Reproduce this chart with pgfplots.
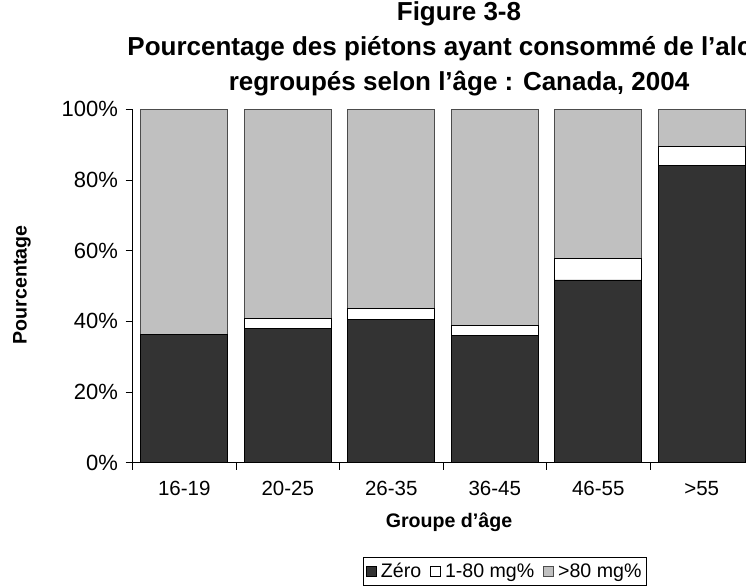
\documentclass[border=0pt]{standalone}
\usepackage{fontspec}
\setmainfont{Liberation Sans}
\usepackage{pgfplots}
\pgfplotsset{compat=1.18}
\definecolor{zero}{RGB}{51,51,51}
\definecolor{over}{RGB}{192,192,192}
\newcommand{\lbl}{\fontsize{19.6bp}{23bp}\selectfont}
\begin{document}
\begin{tikzpicture}[x=1bp,y=1bp]
\useasboundingbox (0,0) rectangle (746,588);
\clip (0,0) rectangle (746,588);
\begin{axis}[
  at={(132.5bp,125.3bp)}, anchor=south west,
  scale only axis, width=621bp, height=353.4bp,
  ybar stacked, bar width=0.84,
  xmin=-0.5, xmax=5.5, ymin=0, ymax=100,
  axis lines*=left,
  axis line style={black, line width=0.8bp},
  xtick={0,...,5},
  xticklabels={16-19,20-25,26-35,36-45,46-55,>55},
  minor xtick={-0.5,0.5,1.5,2.5,3.5,4.5,5.5},
  major x tick style={draw=none},
  minor x tick style={black, line width=0.8bp},
  ytick={0,20,...,100},
  yticklabels={0\%,20\%,40\%,60\%,80\%,100\%},
  y tick style={black, line width=0.8bp},
  tick align=outside, major tick length=7bp, minor tick length=7bp,
  /pgf/number format/assume math mode=true,
  ticklabel style={font=\lbl},
  xticklabel style={yshift=-8bp, font=\fontsize{20.5bp}{24bp}\selectfont},
  yticklabel style={xshift=-4bp, font=\fontsize{22bp}{26bp}\selectfont},
  legend columns=3,
  legend style={at={(0.5995,-0.267)}, anchor=north, draw=black,
    line width=0.8bp, font=\lbl, inner xsep=3bp, inner ysep=4bp,
    /tikz/every even column/.append style={column sep=7bp},
    nodes={inner sep=2bp}},
  legend image code/.code={\draw[#1, line width=0.6bp] (0bp,-5bp) rectangle (10bp,5bp);
    \path (0bp,0bp) (12bp,0bp);},
]
\addplot[fill=zero, draw=black, line width=0.8bp] coordinates {(0,36.4) (1,38.1) (2,40.6) (3,36.0) (4,51.7) (5,84.0)};
\addplot[fill=white, draw=black, line width=0.8bp] coordinates {(0,0) (1,2.7) (2,3.0) (3,2.8) (4,6.2) (5,5.6)};
\addplot[fill=over, draw=black!70, line width=0.8bp] coordinates {(0,63.6) (1,59.2) (2,56.4) (3,61.2) (4,42.1) (5,10.4)};
\legend{Zéro,1-80 mg\%,>80 mg\%}
\end{axis}
\node[font=\fontsize{26bp}{35bp}\selectfont\bfseries, align=center, anchor=north] at (459,590)
  {Figure 3-8\\Pourcentage des piétons ayant consommé de l’alcool\\regroupés selon l’âge : Canada, 2004};
\node[font=\lbl\bfseries, rotate=90] at (22,303) {Pourcentage};
\node[font=\lbl\bfseries] at (449,66) {Groupe d’âge};
\end{tikzpicture}
\end{document}
